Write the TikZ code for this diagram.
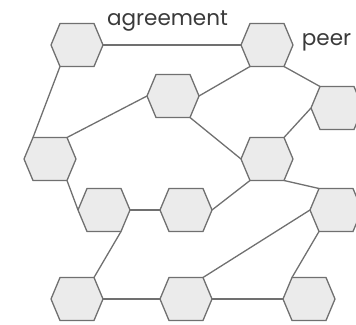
\documentclass[tikz,border=0pt]{standalone}
\usepackage{fontspec}
\setmainfont{Poppins}
\usetikzlibrary{calc}
\definecolor{hexfill}{HTML}{EBEBEB}
\definecolor{linegray}{HTML}{707070}
\definecolor{txt}{HTML}{3A3A3A}
\tikzset{
  hexnode/.style={minimum width=52pt, minimum height=43pt, inner sep=0pt, outer sep=0pt},
  hexshape/.style={fill=hexfill, draw=linegray, line width=1.3pt, line join=miter},
  link/.style={draw=linegray, line width=1.3pt},
  lbl/.style={text=txt, font=\fontsize{21.5}{24}\selectfont, anchor=base, inner sep=0pt}
}
\begin{document}
\begin{tikzpicture}[x=1pt,y=-1pt]
\useasboundingbox (0,0) rectangle (356,324);
\node[hexnode] (A) at (77,45) {};
\node[hexnode] (B) at (267,45) {};
\node[hexnode] (C) at (173,96) {};
\node[hexnode] (D) at (337,108) {};
\node[hexnode] (E) at (50,159) {};
\node[hexnode] (F) at (267,159) {};
\node[hexnode] (G) at (104,210) {};
\node[hexnode] (H) at (186,210) {};
\node[hexnode] (I) at (336,210) {};
\node[hexnode] (J) at (77,299) {};
\node[hexnode] (K) at (186,299) {};
\node[hexnode] (L) at (309,299) {};
\foreach \n in {A,B,C,D,E,F,G,H,I,J,K,L}{
  \coordinate (\n-tl) at ($(\n.north west)+(9pt,0)$);
  \coordinate (\n-tr) at ($(\n.north east)+(-9pt,0)$);
  \coordinate (\n-bl) at ($(\n.south west)+(9pt,0)$);
  \coordinate (\n-br) at ($(\n.south east)+(-9pt,0)$);
}
% connectors
\draw[link] (A.east) -- (B.west);
\draw[link] (A-bl) -- (E-tl);
\draw[link] (E-tr) -- (C.west);
\draw[link] (C.east) -- (B-bl);
\draw[link] (B-br) -- (D-tl);
\draw[link] (C-br) -- (F.west);
\draw[link] (F-tr) -- (D.west);
\draw[link] (E-br) -- (G.west);
\draw[link] (G.east) -- (H.west);
\draw[link] (H.east) -- (F-bl);
\draw[link] (F-br) -- (I-tl);
\draw[link] (G-br) -- (J-tr);
\draw[link] (J.east) -- (K.west);
\draw[link] (K.east) -- (L.west);
\draw[link] (K-tr) -- (I.west);
\draw[link] (I-bl) -- (L-tl);
% hexagons
\foreach \n in {A,B,C,D,E,F,G,H,I,J,K,L}{
  \filldraw[hexshape] (\n.west) -- (\n-tl) -- (\n-tr) -- (\n.east) -- (\n-br) -- (\n-bl) -- cycle;
}
% labels
\node[lbl] (agr) at (167.5,25) {agreement};
\node[lbl] (peer) at (326.5,45) {peer};
\end{tikzpicture}
\end{document}
